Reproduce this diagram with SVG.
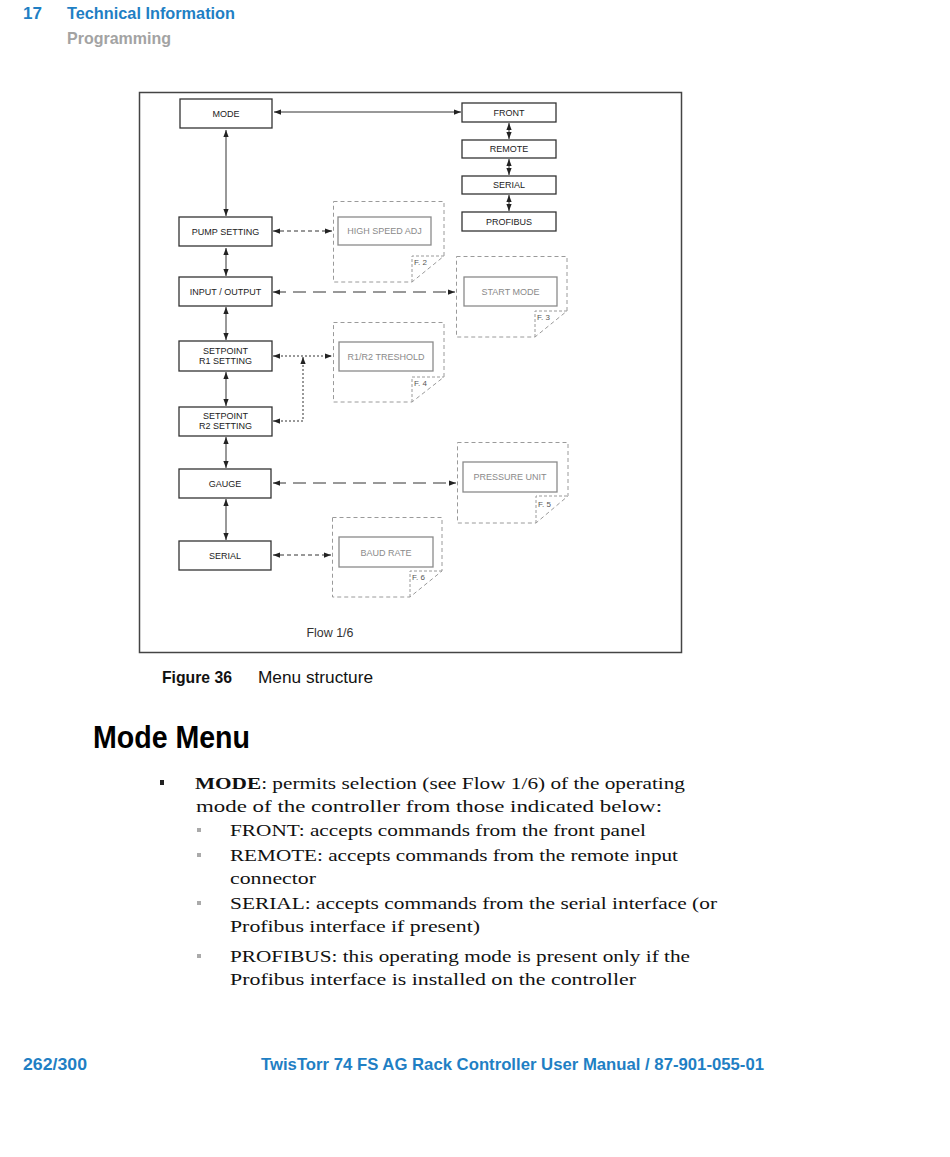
<svg xmlns="http://www.w3.org/2000/svg" width="950" height="1157" viewBox="0 0 950 1157">
<style>
.node rect{fill:#fff;stroke:#333;stroke-width:1.3}
.node text{font-family:"Liberation Sans",Arial,sans-serif;font-size:9px;fill:#222;text-anchor:middle}
.page .outline{fill:#fff;stroke:#9a9a9a;stroke-width:1;stroke-dasharray:4,3}
.page .fold{fill:none;stroke:#9a9a9a;stroke-width:1;stroke-dasharray:3,2}
.page rect{fill:#fff;stroke:#8a8a8a;stroke-width:1.3}
.page text{font-family:"Liberation Sans",Arial,sans-serif;font-size:9px;fill:#8a8a8a;text-anchor:middle}
.page .ref{font-size:8px;fill:#555;text-anchor:start}
.conn{fill:none;stroke:#333;stroke-width:1}
.short{stroke-dasharray:4,3}
.long{stroke-dasharray:13,7}
.dot{stroke-dasharray:2,2}
.hdr{font-family:"Liberation Sans",Arial,sans-serif;font-weight:bold;fill:#1f7fc4}
.body{font-family:"Liberation Serif","Times New Roman",serif;font-size:17.5px;fill:#111}
</style>
<defs>
<marker id="ah" viewBox="0 0 8 6" refX="8" refY="3" markerWidth="7" markerHeight="5.5" markerUnits="userSpaceOnUse" orient="auto-start-reverse">
<path d="M0,0 L8,3 L0,6 z" fill="#222"/>
</marker>
</defs>
<rect x="0" y="0" width="950" height="1157" fill="#fff"/>

<g id="header">
<text x="23" y="19" class="hdr" font-size="17" textLength="19" lengthAdjust="spacingAndGlyphs">17</text>
<text x="67" y="19" class="hdr" font-size="17" textLength="168" lengthAdjust="spacingAndGlyphs">Technical Information</text>
<text x="67" y="44" font-family="Liberation Sans,Arial,sans-serif" font-weight="bold" font-size="17" fill="#a3a3a3" textLength="104" lengthAdjust="spacingAndGlyphs">Programming</text>
</g>

<rect id="frame" x="139.5" y="92.5" width="542" height="560" fill="none" stroke="#444" stroke-width="1.5"/>

<g id="connectors">
<line class="conn" x1="274" y1="112" x2="461" y2="112" marker-start="url(#ah)" marker-end="url(#ah)"/>
<line class="conn" x1="226" y1="130" x2="226" y2="216" marker-start="url(#ah)" marker-end="url(#ah)"/>
<line class="conn" x1="226" y1="248" x2="226" y2="276" marker-start="url(#ah)" marker-end="url(#ah)"/>
<line class="conn" x1="226" y1="307" x2="226" y2="340" marker-start="url(#ah)" marker-end="url(#ah)"/>
<line class="conn" x1="226" y1="372" x2="226" y2="406" marker-start="url(#ah)" marker-end="url(#ah)"/>
<line class="conn" x1="226" y1="437" x2="226" y2="468" marker-start="url(#ah)" marker-end="url(#ah)"/>
<line class="conn" x1="226" y1="499" x2="226" y2="540" marker-start="url(#ah)" marker-end="url(#ah)"/>
<line class="conn" x1="509" y1="123" x2="509" y2="139" marker-start="url(#ah)" marker-end="url(#ah)"/>
<line class="conn" x1="509" y1="159" x2="509" y2="175" marker-start="url(#ah)" marker-end="url(#ah)"/>
<line class="conn" x1="509" y1="195" x2="509" y2="211" marker-start="url(#ah)" marker-end="url(#ah)"/>
<line class="conn short" x1="273" y1="231" x2="332" y2="231" marker-start="url(#ah)" marker-end="url(#ah)"/>
<line class="conn long" x1="273" y1="292" x2="455" y2="292" marker-start="url(#ah)" marker-end="url(#ah)"/>
<line class="conn dot" x1="273" y1="356" x2="332" y2="356" marker-start="url(#ah)" marker-end="url(#ah)"/>
<polyline class="conn dot" points="273,421 303,421 303,357" marker-start="url(#ah)" marker-end="url(#ah)"/>
<line class="conn long" x1="273" y1="483" x2="456" y2="483" marker-start="url(#ah)" marker-end="url(#ah)"/>
<line class="conn short" x1="273" y1="555" x2="331" y2="555" marker-start="url(#ah)" marker-end="url(#ah)"/>
</g>

<g id="node-mode" class="node"><rect x="180" y="99" width="92" height="29"/><text x="226" y="116.5">MODE</text></g>
<g id="node-pump" class="node"><rect x="179" y="217" width="93" height="29"/><text x="225.5" y="234.5">PUMP SETTING</text></g>
<g id="node-io" class="node"><rect x="179" y="277" width="93" height="29"/><text x="225.5" y="294.5">INPUT / OUTPUT</text></g>
<g id="node-r1" class="node"><rect x="179" y="341" width="93" height="30"/><text x="225.5" y="353.5">SETPOINT</text><text x="225.5" y="363.5">R1 SETTING</text></g>
<g id="node-r2" class="node"><rect x="179" y="407" width="93" height="29"/><text x="225.5" y="419">SETPOINT</text><text x="225.5" y="429">R2 SETTING</text></g>
<g id="node-gauge" class="node"><rect x="179" y="469" width="92" height="29"/><text x="225" y="486.5">GAUGE</text></g>
<g id="node-serial-l" class="node"><rect x="179" y="541" width="92" height="29"/><text x="225" y="558.5">SERIAL</text></g>

<g id="node-front" class="node"><rect x="462" y="103" width="94" height="19"/><text x="509" y="115.5">FRONT</text></g>
<g id="node-remote" class="node"><rect x="462" y="140" width="94" height="18"/><text x="509" y="152">REMOTE</text></g>
<g id="node-serial-r" class="node"><rect x="462" y="176" width="94" height="18"/><text x="509" y="188">SERIAL</text></g>
<g id="node-profibus" class="node"><rect x="462" y="212" width="94" height="19"/><text x="509" y="224.5">PROFIBUS</text></g>

<g id="page-f2" class="page">
<path class="outline" d="M333.5,201.5 H444 V256 L412,282 H333.5 Z"/>
<polyline class="fold" points="412,282 412,256 444,256"/>
<rect x="338" y="217" width="93" height="28"/><text x="384.5" y="234">HIGH SPEED ADJ</text>
<text class="ref" x="414" y="265">F. 2</text>
</g>
<g id="page-f3" class="page">
<path class="outline" d="M456.5,256.5 H567 V311 L535,337 H456.5 Z"/>
<polyline class="fold" points="535,337 535,311 567,311"/>
<rect x="464" y="277" width="93" height="29"/><text x="510.5" y="294.5">START MODE</text>
<text class="ref" x="537" y="320">F. 3</text>
</g>
<g id="page-f4" class="page">
<path class="outline" d="M333.5,322.5 H444 V377 L412,402 H333.5 Z"/>
<polyline class="fold" points="412,402 412,377 444,377"/>
<rect x="339" y="342" width="94" height="29"/><text x="386" y="359.5">R1/R2 TRESHOLD</text>
<text class="ref" x="414" y="386">F. 4</text>
</g>
<g id="page-f5" class="page">
<path class="outline" d="M457.5,442.5 H568 V496 L536,523 H457.5 Z"/>
<polyline class="fold" points="536,523 536,496 568,496"/>
<rect x="463" y="462" width="94" height="30"/><text x="510" y="479.5">PRESSURE UNIT</text>
<text class="ref" x="538" y="507">F. 5</text>
</g>
<g id="page-f6" class="page">
<path class="outline" d="M332.5,517.5 H442 V571 L410,597 H332.5 Z"/>
<polyline class="fold" points="410,597 410,571 442,571"/>
<rect x="339" y="537" width="94" height="30"/><text x="386" y="555.5">BAUD RATE</text>
<text class="ref" x="412" y="580">F. 6</text>
</g>

<text x="330" y="637" font-family="Liberation Sans,Arial,sans-serif" font-size="12" fill="#333" text-anchor="middle" textLength="47" lengthAdjust="spacingAndGlyphs">Flow  1/6</text>

<g id="caption">
<text x="162" y="683" font-family="Liberation Sans,Arial,sans-serif" font-weight="bold" font-size="17" fill="#111" textLength="70" lengthAdjust="spacingAndGlyphs">Figure 36</text>
<text x="258" y="683" font-family="Liberation Sans,Arial,sans-serif" font-size="17" fill="#111" textLength="115" lengthAdjust="spacingAndGlyphs">Menu structure</text>
</g>

<text x="93" y="748" font-family="Liberation Sans,Arial,sans-serif" font-weight="bold" font-size="32" fill="#000" textLength="157" lengthAdjust="spacingAndGlyphs">Mode Menu</text>

<g id="body">
<rect x="160" y="780" width="4" height="5" fill="#222"/>
<text class="body" x="195" y="789" textLength="490" lengthAdjust="spacingAndGlyphs"><tspan font-weight="bold">MODE</tspan>: permits selection (see Flow 1/6) of the operating</text>
<text class="body" x="196" y="812" textLength="466" lengthAdjust="spacingAndGlyphs">mode of the controller from those indicated below:</text>
<rect x="197" y="828" width="4" height="4" fill="#aaa"/>
<text class="body" x="230" y="836" textLength="416" lengthAdjust="spacingAndGlyphs">FRONT: accepts commands from the front panel</text>
<rect x="197" y="853" width="4" height="4" fill="#aaa"/>
<text class="body" x="230" y="861" textLength="448" lengthAdjust="spacingAndGlyphs">REMOTE: accepts commands from the remote input</text>
<text class="body" x="230" y="884" textLength="86" lengthAdjust="spacingAndGlyphs">connector</text>
<rect x="197" y="901" width="4" height="4" fill="#aaa"/>
<text class="body" x="230" y="909" textLength="487" lengthAdjust="spacingAndGlyphs">SERIAL: accepts commands from the serial interface (or</text>
<text class="body" x="230" y="932" textLength="250" lengthAdjust="spacingAndGlyphs">Profibus interface if present)</text>
<rect x="197" y="954" width="4" height="4" fill="#aaa"/>
<text class="body" x="230" y="962" textLength="460" lengthAdjust="spacingAndGlyphs">PROFIBUS: this operating mode is present only if the</text>
<text class="body" x="230" y="985" textLength="406" lengthAdjust="spacingAndGlyphs">Profibus interface is installed on the controller</text>
</g>

<g id="footer">
<text x="23" y="1070" class="hdr" font-size="17" textLength="64" lengthAdjust="spacingAndGlyphs">262/300</text>
<text x="261" y="1070" class="hdr" font-size="17" textLength="503" lengthAdjust="spacingAndGlyphs">TwisTorr 74 FS AG Rack Controller User Manual / 87-901-055-01</text>
</g>
</svg>
